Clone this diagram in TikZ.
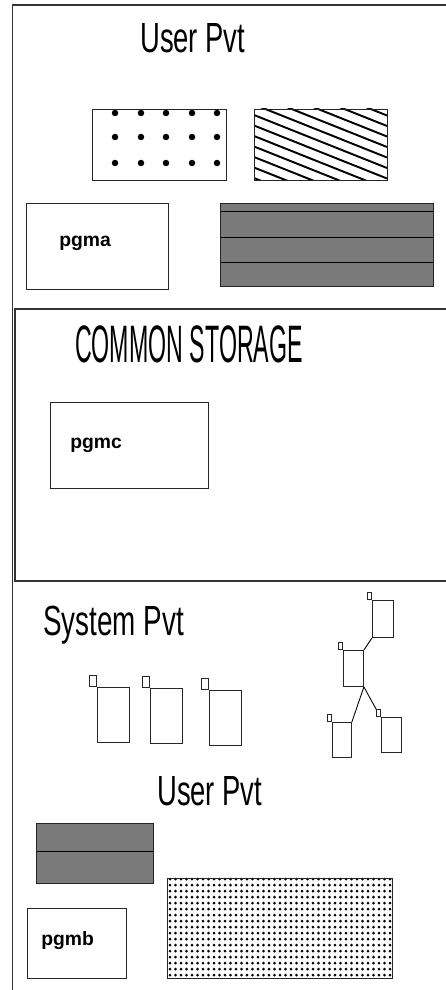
\documentclass[tikz,border=0pt]{standalone}
\usepackage{fontspec}
\setmainfont{Liberation Sans}
\begin{document}
\begin{tikzpicture}[x=0.02cm, y=-0.02cm,
        frame/.style={draw=black!80, line width=0.8pt},
        area/.style={draw=black!85, line width=0.5pt},
        title/.style={inner sep=0, anchor=base west, font=\fontsize{24}{24}\selectfont},
        pgmlabel/.style={inner sep=0, anchor=base west, font=\fontsize{11}{11}\selectfont\bfseries},
        page/.style={draw=black!85, line width=0.5pt, inner sep=0, anchor=north west},
        flag/.style={draw=black!85, line width=0.5pt, inner sep=0, anchor=south east}]
        \useasboundingbox (0,0) rectangle (446,990);
        % Frames
        \draw[frame] (446,5) -- (12.7,5) -- (12.7,990);
        \draw[frame] (446,309) -- (15,309) -- (15,581) -- (446,581);
        % User Pvt (top)
        \node[title, xscale=0.65] (userpvt) at (140,53) {User Pvt};
        \foreach \x in {115,141,166,192,217}
            \foreach \y in {113,137,163}
                \fill (\x,\y) circle[radius=0.065cm];
        \draw[area] (92,109) rectangle (226,180);
        \begin{scope}
            \clip (254,109) rectangle (387,180);
            \foreach \k in {-6,...,6}
                \draw[line width=1.1pt] (254,115+10.5*\k) -- ++(133,53);
        \end{scope}
        \draw[area] (254,109) rectangle (387,180);
        \draw[area] (26,203) rectangle (168,289);
        \node[pgmlabel] (pgma) at (59,246) {pgma};
        \fill[black!52] (220,203) rectangle (433,286);
        \foreach \y in {211,237,262}
            \draw[line width=0.5pt] (220,\y) -- (433,\y);
        \draw[area] (220,203) rectangle (433,286);
        % Common storage
        \node[title, font=\fontsize{30}{30}\selectfont, xscale=0.44] (common) at (75,362) {COMMON STORAGE};
        \draw[area] (50,402) rectangle (208,488);
        \node[pgmlabel] (pgmc) at (70,448) {pgmc};
        % System Pvt
        \node[title, xscale=0.66] (syspvt) at (43,635) {System Pvt};
        \foreach \n/\x/\y in {1/97/687, 2/150/688, 3/209/690} {
            \node[page, minimum width=0.64cm, minimum height=1.1cm] (s\n) at (\x,\y) {};
            \node[flag, minimum width=0.14cm, minimum height=0.22cm] (s\n f) at (s\n.north west) {};
        }
        % Tree
        \node[page, minimum width=0.42cm, minimum height=0.74cm] (t1) at (372,600) {};
        \node[page, minimum width=0.40cm, minimum height=0.72cm] (t2) at (343,650) {};
        \node[page, minimum width=0.38cm, minimum height=0.70cm] (t3) at (332,722) {};
        \node[page, minimum width=0.40cm, minimum height=0.70cm] (t4) at (381,717) {};
        \foreach \n in {1,...,4}
            \node[flag, minimum width=0.08cm, minimum height=0.14cm] (t\n f) at (t\n.north west) {};
        \draw[line width=0.5pt] (t1.south west) -- (t2.north east);
        \draw[line width=0.5pt] (t2.south east) -- (t3.north east);
        \draw[line width=0.5pt] (t2.south east) -- (t4f.north west);
        % User Pvt (bottom)
        \node[title, xscale=0.65] (userpvtb) at (157,805) {User Pvt};
        \fill[black!52] (36,823) rectangle (153,883);
        \draw[line width=0.5pt] (36,851) -- (153,851);
        \draw[area] (36,823) rectangle (153,883);
        \draw[area] (27,908) rectangle (126,978);
        \node[pgmlabel] (pgmb) at (41,945) {pgmb};
        \foreach \x in {170,175.5,...,390}
            \foreach \y in {879,885,...,977}
                \fill (\x,\y) circle[radius=0.03cm];
        \draw[area] (167,878) rectangle (392,978);
\end{tikzpicture}
\end{document}
